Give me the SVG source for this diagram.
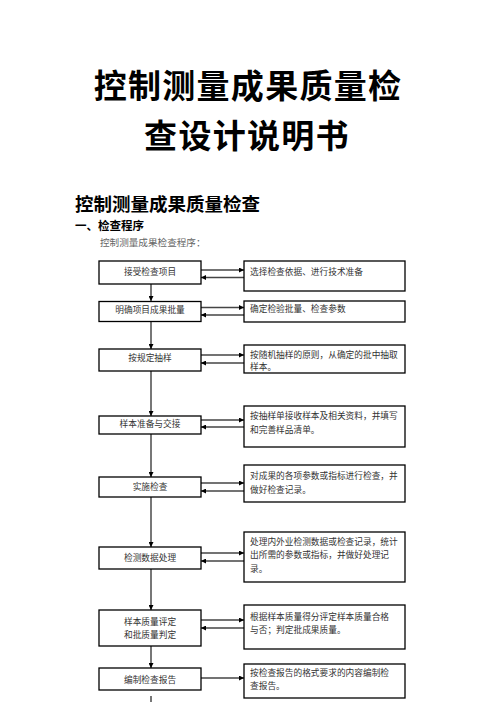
<svg xmlns="http://www.w3.org/2000/svg" width="496" height="702" viewBox="0 0 496 702">
<defs>
<marker id="ah" viewBox="0 0 10 10" refX="10" refY="5" markerWidth="5" markerHeight="5" markerUnits="userSpaceOnUse" orient="auto">
<path d="M0,0 L10,5 L0,10 z" fill="#000"/>
</marker>
<style>
.title{font-family:"Noto Sans CJK SC","Noto Sans CJK JP",sans-serif;font-weight:700;fill:#000;}
.box{fill:#fff;stroke:#000;stroke-width:1.3;}
.t{font-family:"Noto Sans CJK SC","Noto Sans CJK JP",sans-serif;font-size:8.7px;fill:#333;}
.c{text-anchor:middle;}
.h{stroke:#444;stroke-width:1.4;fill:none;marker-end:url(#ah);}
.v{stroke:#777;stroke-width:2;fill:none;marker-end:url(#ah);}
</style>
</defs>
<rect width="496" height="702" fill="#fff"/>
<g id="heading">
<text class="title" x="248" y="97.5" font-size="33" letter-spacing="1.3" text-anchor="middle">控制测量成果质量检</text>
<text class="title" x="247" y="147.5" font-size="33" letter-spacing="1.3" text-anchor="middle">查设计说明书</text>
<text class="title" x="75" y="210.5" font-size="18.5">控制测量成果质量检查</text>
<text class="title" x="75" y="230.2" font-size="11.5">一、检查程序</text>
<text x="100" y="246.3" font-size="9.6" fill="#666" font-family="Noto Sans CJK SC, sans-serif">控制测量成果检查程序：</text>
</g>
<g id="connectors">
<line class="h" x1="201" y1="270" x2="244" y2="270"/>
<line class="h" x1="244" y1="277.5" x2="201" y2="277.5"/>
<line class="h" x1="201" y1="307.5" x2="244" y2="307.5"/>
<line class="h" x1="244" y1="315" x2="201" y2="315"/>
<line class="h" x1="201" y1="355" x2="244" y2="355"/>
<line class="h" x1="244" y1="363" x2="201" y2="363"/>
<line class="h" x1="201" y1="420" x2="244" y2="420"/>
<line class="h" x1="244" y1="427" x2="201" y2="427"/>
<line class="h" x1="201" y1="483" x2="244" y2="483"/>
<line class="h" x1="244" y1="491" x2="201" y2="491"/>
<line class="h" x1="201" y1="553" x2="244" y2="553"/>
<line class="h" x1="244" y1="561" x2="201" y2="561"/>
<line class="h" x1="201" y1="620" x2="244" y2="620"/>
<line class="h" x1="244" y1="628" x2="201" y2="628"/>
<line class="h" x1="201" y1="678" x2="244" y2="678"/>
<line class="v" x1="151" y1="284" x2="151" y2="301"/>
<line class="v" x1="151" y1="321.5" x2="151" y2="349"/>
<line class="v" x1="151" y1="371" x2="151" y2="416"/>
<line class="v" x1="151" y1="434" x2="151" y2="477"/>
<line class="v" x1="151" y1="497" x2="151" y2="547"/>
<line class="v" x1="151" y1="569" x2="151" y2="610"/>
<line class="v" x1="151" y1="646" x2="151" y2="668"/>
<line x1="151" y1="696" x2="151" y2="702" stroke="#777" stroke-width="2"/>
</g>
<g id="n1"><rect class="box" x="99" y="261" width="102" height="23"/><text class="t c" x="150" y="275">接受检查项目</text></g>
<g id="n2"><rect class="box" x="99" y="301.5" width="102" height="20"/><text class="t c" x="150" y="313">明确项目成果批量</text></g>
<g id="n3"><rect class="box" x="99" y="349" width="102" height="22"/><text class="t c" x="150" y="360.5">按规定抽样</text></g>
<g id="n4"><rect class="box" x="99" y="416" width="102" height="18"/><text class="t c" x="150" y="427">样本准备与交接</text></g>
<g id="n5"><rect class="box" x="99" y="477" width="102" height="20"/><text class="t c" x="150" y="489.5">实施检查</text></g>
<g id="n6"><rect class="box" x="99" y="547" width="102" height="22"/><text class="t c" x="150" y="561">检测数据处理</text></g>
<g id="n7"><rect class="box" x="99" y="610" width="102" height="36"/><text class="t c" x="150" y="625.3" font-size="8.2">样本质量评定</text><text class="t c" x="150" y="637.6" font-size="8.2">和批质量判定</text></g>
<g id="n8"><rect class="box" x="99" y="668" width="102" height="22"/><text class="t c" x="150" y="683.3">编制检查报告</text></g>
<g id="r1"><rect class="box" x="244" y="261" width="161" height="30"/><text class="t" x="250" y="274.5">选择检查依据、进行技术准备</text></g>
<g id="r2"><rect class="box" x="244" y="301" width="161" height="21"/><text class="t" x="250" y="311.6">确定检验批量、检查参数</text></g>
<g id="r3"><rect class="box" x="244" y="345" width="161" height="28"/><text class="t" x="250" y="358.3">按随机抽样的原则，从确定的批中抽取</text><text class="t" x="250" y="370">样本。</text></g>
<g id="r4"><rect class="box" x="244" y="406" width="161" height="41"/><text class="t" x="250" y="419.3">按抽样单接收样本及相关资料，并填写</text><text class="t" x="250" y="432.6">和完善样品清单。</text></g>
<g id="r5"><rect class="box" x="244" y="465" width="161" height="37"/><text class="t" x="250" y="479.3">对成果的各项参数或指标进行检查，并</text><text class="t" x="250" y="492.6">做好检查记录。</text></g>
<g id="r6"><rect class="box" x="244" y="532" width="161" height="50"/><text class="t" x="250" y="545">处理内外业检测数据或检查记录，统计</text><text class="t" x="250" y="558.3">出所需的参数或指标，并做好处理记</text><text class="t" x="250" y="571.6">录。</text></g>
<g id="r7"><rect class="box" x="244" y="605" width="161" height="44"/><text class="t" x="250" y="620">根据样本质量得分评定样本质量合格</text><text class="t" x="250" y="633.3">与否；判定批成果质量。</text></g>
<g id="r8"><rect class="box" x="244" y="664" width="161" height="34"/><text class="t" x="250" y="675.6">按检查报告的格式要求的内容编制检</text><text class="t" x="250" y="689.3">查报告。</text></g>
</svg>
